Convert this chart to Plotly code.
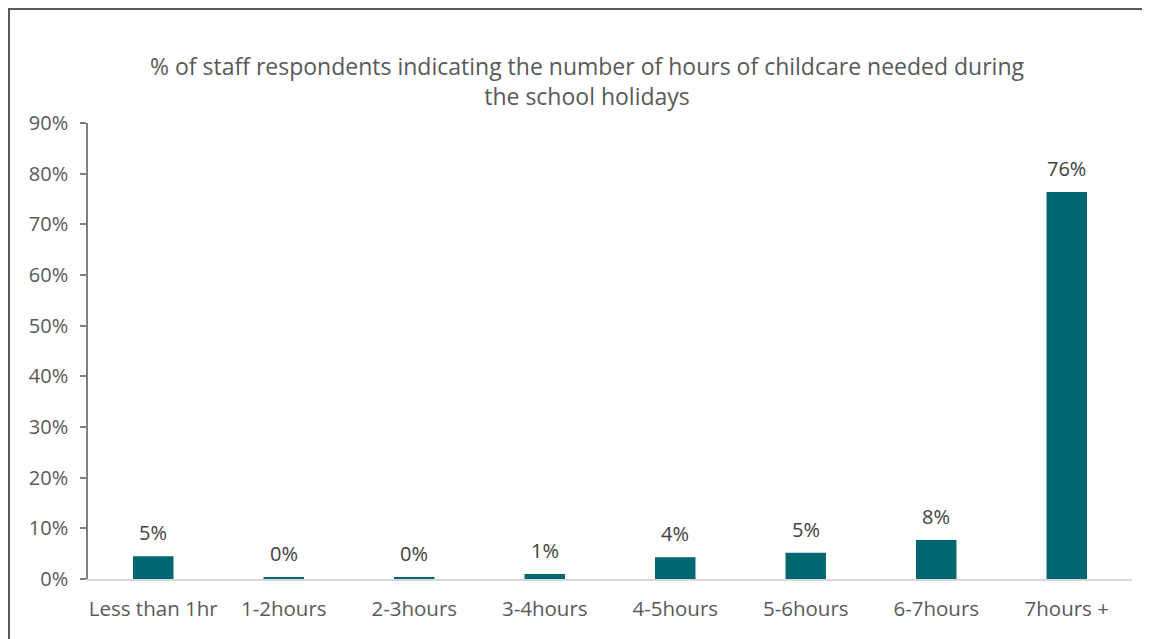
import plotly.graph_objects as go

categories = ["Less than 1hr", "1-2hours", "2-3hours", "3-4hours", "4-5hours", "5-6hours", "6-7hours", "7hours +"]
values = [4.5, 0.3, 0.3, 1.0, 4.3, 5.2, 7.7, 76.4]
labels = ["5%", "0%", "0%", "1%", "4%", "5%", "8%", "76%"]
y_ticks = [0, 10, 20, 30, 40, 50, 60, 70, 80, 90]
y_tick_labels = [f"{v}%" for v in y_ticks]

FONT = "Open Sans"
GRAY = "#595959"

fig = go.Figure(go.Bar(
    x=categories, y=values,
    marker=dict(color="#006670", line=dict(width=0)),
    width=0.31, cliponaxis=False,
))

for cat, val, lab in zip(categories, values, labels):
    fig.add_annotation(
        x=cat, y=val, text=lab, showarrow=False,
        yanchor="bottom", yshift=8,
        font=dict(family=FONT, size=20, color="#404040"),
    )

# page body has an 8px margin, so the figure starts at (8, 8)
W, H = 1142, 631
L, R, T, B = 80, 18, 115, 60
pw, ph = W - L - R, H - T - B

def px_x(p):
    return (p - L) / pw

def px_y(p):
    return (H - B - p) / ph

fig.update_layout(
    width=W, height=H,
    margin=dict(l=L, r=R, t=T, b=B),
    paper_bgcolor="white", plot_bgcolor="white",
    showlegend=False,
    title=dict(
        text="% of staff respondents indicating the number of hours of childcare needed during<br>the school holidays",
        x=579 / W, xanchor="center", y=1 - 67 / H, yanchor="middle",
        font=dict(family=FONT, size=23, color=GRAY),
    ),
    xaxis=dict(
        showline=True, linecolor="#d9d9d9", linewidth=1.5,
        ticks="", tickfont=dict(family=FONT, size=20.5, color=GRAY),
        ticklabelstandoff=11,
        showgrid=False, fixedrange=True,
    ),
    yaxis=dict(
        range=[0, 90], tickvals=y_ticks, ticktext=y_tick_labels,
        showline=True, linecolor="#808080", linewidth=1.5,
        ticks="outside", ticklen=6, tickcolor="#808080", tickwidth=1.5,
        tickfont=dict(family=FONT, size=20, color=GRAY),
        ticklabelstandoff=8,
        showgrid=False, zeroline=False, fixedrange=True,
    ),
    bargap=0.69,
    shapes=[dict(
        type="rect", xref="paper", yref="paper",
        x0=px_x(1), x1=px_x(1300), y0=px_y(800), y1=px_y(1),
        line=dict(color="#595959", width=2), fillcolor="rgba(0,0,0,0)", layer="above",
    )],
)

fig.write_html("out.html")
